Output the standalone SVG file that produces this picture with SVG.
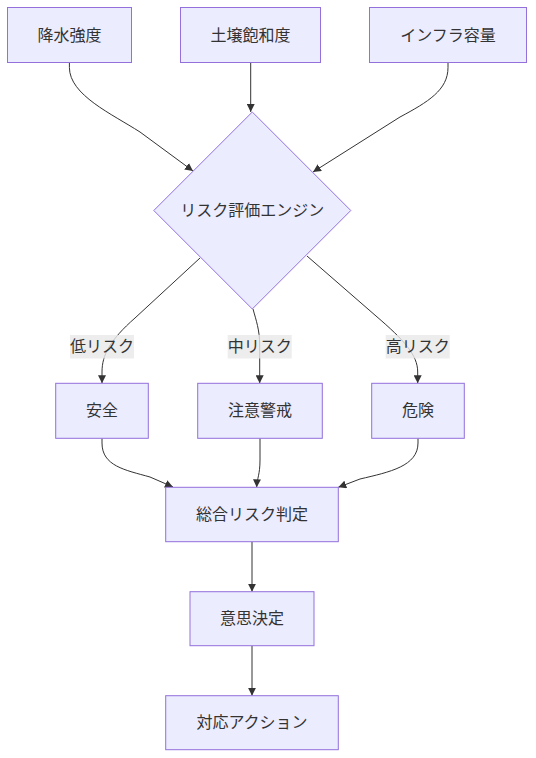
<svg xmlns="http://www.w3.org/2000/svg" width="536" height="758" viewBox="0 0 536 758">
<style>
.node rect,.node polygon{fill:#ECECFF;stroke:#9370DB;stroke-width:1}
text{font-family:"Liberation Sans","Noto Sans CJK JP",sans-serif;font-size:16px;fill:#333;text-anchor:middle;dominant-baseline:central}
.edge{fill:none;stroke:#333;stroke-width:1}
.lbl rect{fill:#e8e8e8;opacity:0.8}
</style>
<defs>
<marker id="arr" viewBox="0 0 10 10" refX="10" refY="5" markerWidth="8" markerHeight="8" markerUnits="userSpaceOnUse" orient="auto">
<path d="M0,0 L10,5 L0,10 z" fill="#333"/>
</marker>
</defs>
<rect width="536" height="758" fill="#fff"/>
<g id="edges">
<path class="edge" marker-end="url(#arr)" d="M69.4,62.5 L69.4,67.5 C69.4,95 112,114 140,132 L193,171"/>
<path class="edge" marker-end="url(#arr)" d="M250.7,62.5 L250.7,112"/>
<path class="edge" marker-end="url(#arr)" d="M448,62.5 L448,67.5 C448,90 428,102 400,117 L313,172"/>
<path class="edge" marker-end="url(#arr)" d="M200,258 L135,318 C110,340 102,355 102,372 L102,383.3"/>
<path class="edge" marker-end="url(#arr)" d="M253,309 C256,320 259.7,330 259.7,345 L259.7,383.3"/>
<path class="edge" marker-end="url(#arr)" d="M307,256 L376,316 C404,340 417.7,355 417.7,372 L417.7,383.3"/>
<path class="edge" marker-end="url(#arr)" d="M102,438.3 L102,443 C102,466 125,470 150,477 L173,487"/>
<path class="edge" marker-end="url(#arr)" d="M260,438.3 L260,460 C260,475 257,478 256.7,487.3"/>
<path class="edge" marker-end="url(#arr)" d="M418,438.3 L418,443 C418,466 390,472 360,479 L338.3,487.3"/>
<path class="edge" marker-end="url(#arr)" d="M252,541.7 L252,591.7"/>
<path class="edge" marker-end="url(#arr)" d="M252,645.7 L252,695.7"/>
</g>
<g id="edge-labels">
<g class="lbl"><rect x="70" y="335" width="64" height="23.5"/><text x="102" y="346.8">低リスク</text></g>
<g class="lbl"><rect x="227.7" y="335" width="64" height="23.5"/><text x="259.7" y="346.8">中リスク</text></g>
<g class="lbl"><rect x="385.7" y="335" width="64" height="23.5"/><text x="417.7" y="346.8">高リスク</text></g>
</g>
<g id="n-rain" class="node"><rect x="7.5" y="7.5" width="124" height="55"/><text x="69.5" y="35">降水強度</text></g>
<g id="n-soil" class="node"><rect x="180.5" y="7.5" width="140" height="55"/><text x="250.5" y="35">土壌飽和度</text></g>
<g id="n-infra" class="node"><rect x="369.5" y="7.5" width="157" height="55"/><text x="448" y="35">インフラ容量</text></g>
<g id="n-engine" class="node"><polygon points="252.3,112 350.8,210.5 252.3,309 153.8,210.5"/><text x="252.3" y="210.5">リスク評価エンジン</text></g>
<g id="n-safe" class="node"><rect x="55.7" y="383.3" width="92.6" height="55"/><text x="102" y="410.8">安全</text></g>
<g id="n-caution" class="node"><rect x="197.7" y="383.3" width="124.6" height="55"/><text x="260" y="410.8">注意警戒</text></g>
<g id="n-danger" class="node"><rect x="371.7" y="383.3" width="92.6" height="55"/><text x="418" y="410.8">危険</text></g>
<g id="n-total" class="node"><rect x="165.7" y="487.3" width="172.6" height="54.4"/><text x="252" y="514.5">総合リスク判定</text></g>
<g id="n-decide" class="node"><rect x="190" y="591.7" width="124" height="54"/><text x="252" y="618.7">意思決定</text></g>
<g id="n-action" class="node"><rect x="165.7" y="695.7" width="172.6" height="54"/><text x="252" y="722.7">対応アクション</text></g>
</svg>
